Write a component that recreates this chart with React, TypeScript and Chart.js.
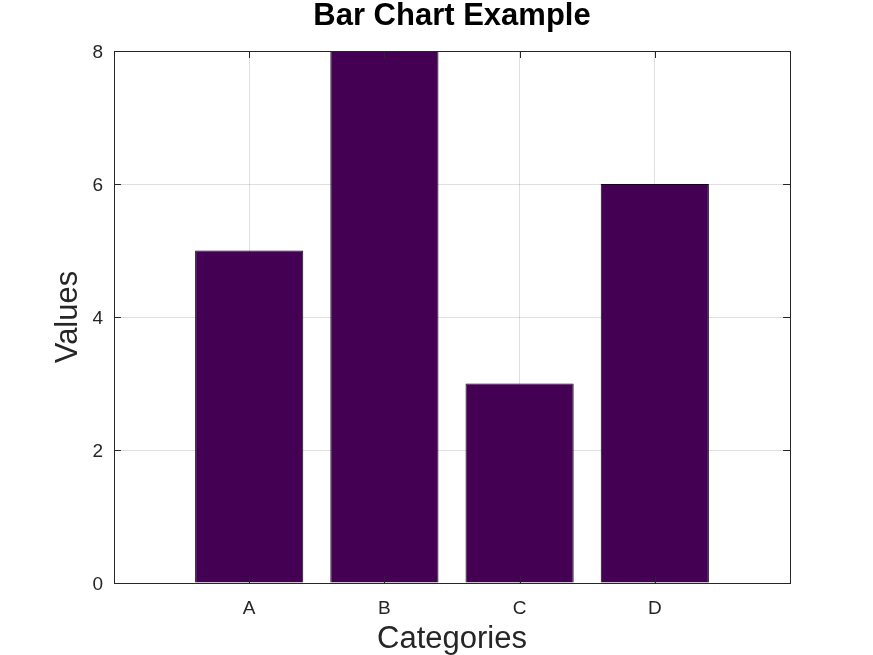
import React, { useEffect, useRef } from "react";
import { Chart, registerables } from "chart.js";

Chart.register(...registerables);

const categories = ["A", "B", "C", "D"];
const values = [5, 8, 3, 6];
const yTicks = [0, 2, 4, 6, 8];
const titleText = "Bar Chart Example";
const xLabel = "Categories";
const yLabel = "Values";

const FONT = "'Liberation Sans', Arial, Helvetica, sans-serif";
const AXIS = "#262626";
const GRID = "rgba(38,38,38,0.15)";

const framePlugin = {
  id: "frame",
  afterDatasetsDraw(chart: any) {
    const { ctx, chartArea: a, scales } = chart;
    const xs = scales.x;
    const ys = scales.y;
    const tl = 7;
    ctx.save();
    ctx.strokeStyle = AXIS;
    ctx.lineWidth = 1;
    ctx.beginPath();
    yTicks.forEach((v) => {
      const y = Math.round(ys.getPixelForValue(v)) + 0.5;
      ctx.moveTo(a.left, y);
      ctx.lineTo(a.left + tl, y);
      ctx.moveTo(a.right, y);
      ctx.lineTo(a.right - tl, y);
    });
    categories.forEach((_, i) => {
      const x = Math.round(xs.getPixelForValue(i + 1)) + 0.5;
      ctx.moveTo(x, a.bottom);
      ctx.lineTo(x, a.bottom - tl);
      ctx.moveTo(x, a.top);
      ctx.lineTo(x, a.top + tl);
    });
    ctx.stroke();
    ctx.strokeRect(Math.round(a.left) + 0.5, Math.round(a.top) + 0.5, Math.round(a.right - a.left), Math.round(a.bottom - a.top));
    ctx.fillStyle = "#000";
    ctx.font = `bold 31px ${FONT}`;
    ctx.textAlign = "center";
    ctx.textBaseline = "middle";
    ctx.fillText(titleText, (a.left + a.right) / 2, 16);
    ctx.restore();
  },
};

export default function App() {
  const ref = useRef<HTMLCanvasElement>(null);
  useEffect(() => {
    if (!ref.current) return;
    const chart = new Chart(ref.current, {
      type: "bar",
      data: {
        datasets: [
          {
            data: values.map((v, i) => ({ x: i + 1, y: v })),
            backgroundColor: "#440154",
            borderColor: "#0d0010",
            borderWidth: 1,
            barPercentage: 0.8,
            categoryPercentage: 1,
          },
        ],
      },
      options: {
        responsive: false,
        animation: false,
        layout: { padding: { top: 51, right: 83, left: 0, bottom: 0 } },
        plugins: { legend: { display: false }, title: { display: false }, tooltip: { enabled: false } },
        scales: {
          x: {
            type: "linear",
            min: 0,
            max: 5,
            offset: false,
            afterFit: (s: any) => {
              s.height = 72;
            },
            afterBuildTicks: (s: any) => {
              s.ticks = [0, 1, 2, 3, 4, 5].map((v) => ({ value: v }));
            },
            ticks: {
              autoSkip: false,
              maxRotation: 0,
              padding: 14,
              color: AXIS,
              font: { family: FONT, size: 19 },
              callback: (v: any) => (v >= 1 && v <= categories.length ? categories[v - 1] : ""),
            },
            grid: {
              offset: false,
              drawTicks: false,
              color: (c: any) => (c.tick && (c.tick.value === 0 || c.tick.value === 5) ? "rgba(0,0,0,0)" : GRID),
            },
            border: { display: false },
            title: {
              display: true,
              text: xLabel,
              color: AXIS,
              font: { family: FONT, size: 31, lineHeight: 1 },
              padding: { top: 0, bottom: 0 },
            },
          },
          y: {
            type: "linear",
            min: 0,
            max: 8,
            afterFit: (s: any) => {
              s.width = 114;
            },
            afterBuildTicks: (s: any) => {
              s.ticks = yTicks.map((v) => ({ value: v }));
            },
            ticks: {
              padding: 11,
              labelOffset: 2,
              color: AXIS,
              font: { family: FONT, size: 19 },
            },
            grid: {
              drawTicks: false,
              color: (c: any) => (c.tick && (c.tick.value === 0 || c.tick.value === 8) ? "rgba(0,0,0,0)" : GRID),
            },
            border: { display: false },
            title: {
              display: true,
              text: yLabel,
              color: AXIS,
              font: { family: FONT, size: 31, lineHeight: 1 },
              padding: { top: 53, bottom: 0 },
            },
          },
        },
      },
      plugins: [framePlugin],
    });
    return () => chart.destroy();
  }, []);
  return (
    <div style={{ position: "fixed", left: 0, top: 0, width: 873, height: 655, background: "#fff" }}>
      <canvas ref={ref} width={873} height={655} style={{ width: 873, height: 655, display: "block" }} />
    </div>
  );
}
